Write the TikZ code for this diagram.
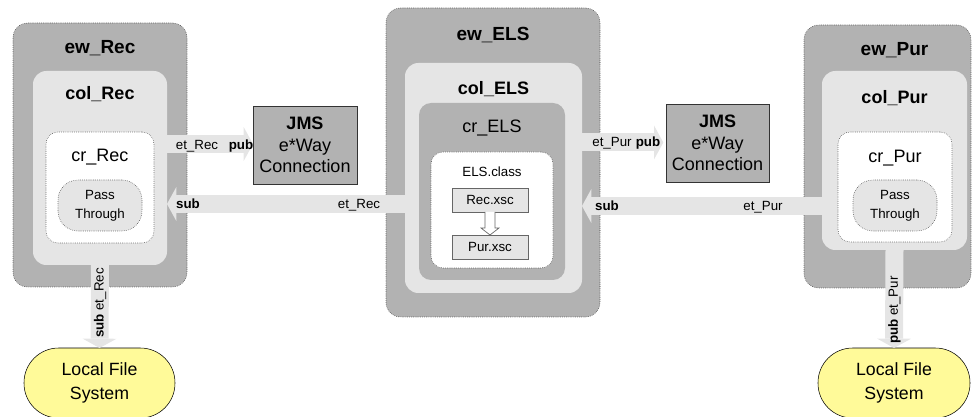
\documentclass[tikz,border=0pt]{standalone}
\usepackage{fontspec}
\setmainfont{Liberation Sans}
\usetikzlibrary{arrows.meta, calc, positioning}

\newcommand{\lblfont}{\fontsize{13.5}{16}\selectfont}
\newcommand{\smlfont}{\fontsize{10}{14}\selectfont}

\begin{document}
\begin{tikzpicture}[x=0.75pt, y=-0.75pt,
    every node/.style={inner sep=0pt, outer sep=0pt},
    ewbox/.style={draw=black!80, densely dotted, fill=gray!60, rounded corners=11pt},
    colbox/.style={fill=gray!20, rounded corners=10pt},
    crbox/.style={draw=black!80, densely dotted, fill=white, rounded corners=9pt},
    passbox/.style={draw=black!80, densely dotted, fill=gray!20, rounded corners=15pt, align=center, font=\smlfont},
    jmsbox/.style={draw=black!80, fill=gray!60, align=center, font=\fontsize{13.5}{16}\selectfont, minimum width=78pt, minimum height=58.5pt},
    lfsbox/.style={draw=black, fill=yellow!40, rounded corners=26pt, align=center, font=\fontsize{13.3}{18.5}\selectfont},
    xscbox/.style={draw=black!60, fill=gray!20, font=\smlfont, minimum width=57pt, minimum height=18pt},
    boldlbl/.style={font=\lblfont\bfseries, anchor=base},
    plainlbl/.style={font=\lblfont, anchor=base},
    arrlbl/.style={font=\smlfont, anchor=base},
    fatarrow/.style={draw=gray!20, line width=13.5pt, -{Triangle[length=7pt, width=25.5pt, line width=0pt]}},
    hollowarrow/.style={draw=black!60, fill=white, line width=0.5pt}
]
\useasboundingbox (0,0) rectangle (972,417);

% Rec side
\node[ewbox, minimum width=130.5pt, minimum height=198pt] (ewRec) at (100,155) {};
\node[colbox, minimum width=100.5pt, minimum height=145.5pt] (colRec) at (100,168) {};
\node[crbox, minimum width=81pt, minimum height=83.25pt] (crRec) at (100,187.5) {};
\node[passbox, minimum width=63pt, minimum height=38.25pt] (passRec) at (100,205.5) {Pass\\Through};
\node[lfsbox, minimum width=113.25pt, minimum height=52.5pt] (lfsRec) at (99.5,383) {Local File\\System};
\node[boldlbl, font=\fontsize{14.25}{16}\selectfont\bfseries] (ewRecLbl) at (ewRec |- 0,54) {ew\_Rec};
\node[boldlbl] (colRecLbl) at (colRec |- 0,100) {col\_Rec};
\node[plainlbl] (crRecLbl) at (crRec |- 0,162) {cr\_Rec};

% ELS in the middle
\node[ewbox, minimum width=160.5pt, minimum height=231.75pt] (ewELS) at (493,162.5) {};
\node[colbox, minimum width=132.75pt, minimum height=172.5pt] (colELS) at (493.5,178) {};
\node[colbox, fill=gray!60, rounded corners=9pt, minimum width=109.5pt, minimum height=132.75pt] (crELS) at (492,191.5) {};
\node[crbox, minimum width=91.5pt, minimum height=87pt] (clsELS) at (492,210) {};
\node[xscbox] (recXsc) at (490,200) {Rec.xsc};
\node[xscbox] (purXsc) at (490,247) {Pur.xsc};
\node[boldlbl, font=\fontsize{14.25}{16}\selectfont\bfseries] (ewELSLbl) at (ewELS |- 0,41) {ew\_ELS};
\node[boldlbl] (colELSLbl) at (colELS |- 0,95) {col\_ELS};
\node[plainlbl] (crELSLbl) at (crELS |- 0,133) {cr\_ELS};
\node[arrlbl] (clsELSLbl) at (clsELS |- 0,177) {ELS.class};
\draw[hollowarrow] ($(recXsc.south)+(-5,0)$) -- ($(purXsc.north)+(-5,-7)$) -- ++(-4,0)
    -- (purXsc.north) -- ($(purXsc.north)+(9,-7)$) -- ++(-4,0) -- ($(recXsc.south)+(5,0)$);

% Pur side
\node[ewbox, minimum width=125.25pt, minimum height=197.25pt] (ewPur) at (887.5,156.5) {};
\node[colbox, minimum width=108.75pt, minimum height=134.25pt] (colPur) at (894.5,160.5) {};
\node[crbox, minimum width=85.5pt, minimum height=82.5pt] (crPur) at (895,187) {};
\node[passbox, minimum width=63pt, minimum height=38.25pt] (passPur) at (895,205.5) {Pass\\Through};
\node[lfsbox, minimum width=114pt, minimum height=52.5pt] (lfsPur) at (894,383) {Local File\\System};
\node[boldlbl, font=\fontsize{14.25}{16}\selectfont\bfseries] (ewPurLbl) at (colPur |- 0,56) {ew\_Pur};
\node[boldlbl] (colPurLbl) at (colPur |- 0,104) {col\_Pur};
\node[plainlbl] (crPurLbl) at (crPur |- 0,163) {cr\_Pur};

% JMS connections
\node[jmsbox] (jmsRec) at (305,145) {\textbf{JMS}\\e*Way\\Connection};
\node[jmsbox, minimum width=77.25pt] (jmsPur) at (717.5,143) {\textbf{JMS}\\e*Way\\Connection};

% event types
\draw[fatarrow] (colRec.east |- 0,144) -- (jmsRec.west |- 0,144);
\draw[fatarrow] (colELS.west |- 0,204) -- (colRec.east |- 0,204);
\draw[fatarrow] (colRec.south) -- (lfsRec.north);
\draw[fatarrow, shorten >=2pt] (colELS.east |- 0,142.5) -- (jmsPur.west |- 0,142.5);
\draw[fatarrow] (colPur.west |- 0,206) -- (colELS.east |- 0,206);
\draw[fatarrow] (colPur.south) -- (lfsPur.north);

\node[arrlbl] (pubRecEt) at (197,149.5) {et\_Rec};
\node[arrlbl, font=\smlfont\bfseries] (pubRecPub) at (241,149.5) {pub};
\node[arrlbl, font=\smlfont\bfseries] (subRecSub) at (188,208.5) {sub};
\node[arrlbl] (subRecEt) at (359,208.5) {et\_Rec};
\node[arrlbl] (pubPurEt) at (612,147) {et\_Pur};
\node[arrlbl, font=\smlfont\bfseries] (pubPurPub) at (648,147) {pub};
\node[arrlbl, font=\smlfont\bfseries] (subPurSub) at (607,211) {sub};
\node[arrlbl] (subPurEt) at (763,211) {et\_Pur};
\node[font=\smlfont, rotate=90] (downRecLbl) at (colRec.south |- 0,303) {\textbf{sub} et\_Rec};
\node[font=\smlfont, rotate=90] (downPurLbl) at (colPur.south |- 0,310) {\textbf{pub} et\_Pur};
\end{tikzpicture}
\end{document}
